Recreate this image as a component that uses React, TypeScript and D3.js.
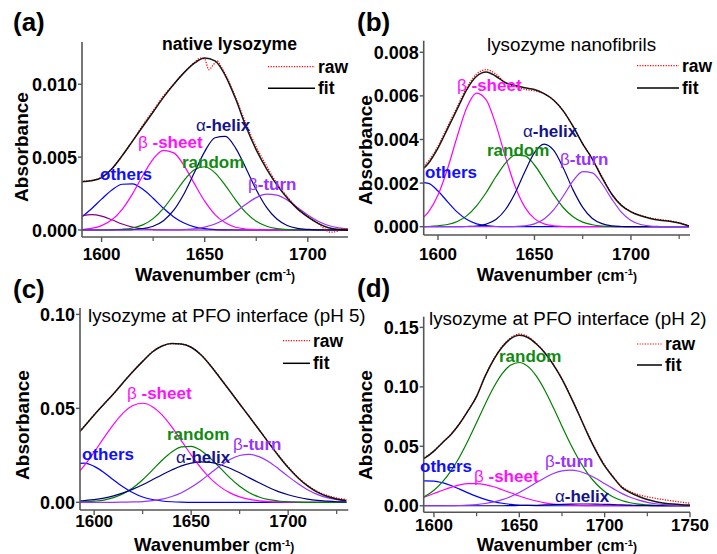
import React from 'react';
import * as d3 from 'd3';

// wavenumber grids (cm-1)
const wnA = [1590, 1595, 1600, 1605, 1610, 1615, 1620, 1625, 1630, 1635, 1640, 1645, 1650, 1655, 1660, 1665, 1670, 1675, 1680, 1685, 1690, 1695, 1700, 1705, 1710, 1715, 1720];
const wnBC = [1590, 1595, 1600, 1605, 1610, 1615, 1620, 1625, 1630, 1635, 1640, 1645, 1650, 1655, 1660, 1665, 1670, 1675, 1680, 1685, 1690, 1695, 1700, 1705, 1710, 1715, 1720, 1725, 1730];
const wnD = [1590, 1595, 1600, 1605, 1610, 1615, 1620, 1625, 1630, 1635, 1640, 1645, 1650, 1655, 1660, 1665, 1670, 1675, 1680, 1685, 1690, 1695, 1700, 1705, 1710, 1715, 1720, 1725, 1730, 1735, 1740, 1745, 1750];

// (a) native lysozyme
const othersA = [0.00086, 0.00144, 0.00212, 0.00275, 0.00314, 0.00316, 0.00279, 0.00218, 0.00149, 0.0009, 0.00048, 0.00022, 0.00009, 0.00003, 0.00001, 0, 0, 0, 0, 0, 0, 0, 0, 0, 0, 0, 0];
const extraA = [0.00095, 0.00105, 0.00095, 0.0007, 0.00041, 0.0002, 0.00008, 0.00003, 0.00001, 0, 0, 0, 0, 0, 0, 0, 0, 0, 0, 0, 0, 0, 0, 0, 0, 0, 0];
const sheetA = [0.00003, 0.00011, 0.0003, 0.0007, 0.00142, 0.00248, 0.00374, 0.00487, 0.00547, 0.00529, 0.00442, 0.00318, 0.00198, 0.00106, 0.00049, 0.00019, 0.00007, 0.00002, 0, 0, 0, 0, 0, 0, 0, 0, 0];
const randomA = [0, 0, 0, 0.00001, 0.00005, 0.00014, 0.00035, 0.00078, 0.00148, 0.00242, 0.00341, 0.00414, 0.00434, 0.00392, 0.00306, 0.00206, 0.00119, 0.0006, 0.00026, 0.0001, 0.00003, 0.00001, 0, 0, 0, 0, 0];
const alphaA = [0, 0, 0, 0, 0.00001, 0.00003, 0.00009, 0.00026, 0.00064, 0.00136, 0.00249, 0.00394, 0.00538, 0.00633, 0.00642, 0.00562, 0.00424, 0.00276, 0.00155, 0.00075, 0.00031, 0.00011, 0.00004, 0.00001, 0, 0, 0];
const turnA = [0, 0, 0, 0, 0, 0, 0, 0, 0, 0.00001, 0.00003, 0.00008, 0.0002, 0.00041, 0.00076, 0.00123, 0.00176, 0.00222, 0.00246, 0.00239, 0.00206, 0.00155, 0.00103, 0.0006, 0.00031, 0.00014, 0.00006];
const fitA = [0.0033, 0.00338, 0.0036, 0.0042, 0.0051, 0.0061, 0.0071, 0.0081, 0.0091, 0.01, 0.0108, 0.01145, 0.0118, 0.0116, 0.0106, 0.009, 0.0071, 0.0055, 0.0042, 0.0031, 0.0022, 0.00145, 0.0009, 0.00045, 0.00015, 0.00003, 0];
const rawWnA = [1590, 1595, 1600, 1605, 1610, 1615, 1620, 1625, 1630, 1635, 1640, 1645, 1648, 1650, 1652, 1654, 1656, 1658, 1660, 1665, 1670, 1675, 1680, 1685, 1690, 1695, 1700, 1705, 1708, 1711, 1714, 1717, 1720];
const rawA = [0.00334, 0.0034, 0.00362, 0.0042, 0.0051, 0.0061, 0.0072, 0.0082, 0.0092, 0.01, 0.0108, 0.0115, 0.0118, 0.01172, 0.011, 0.0113, 0.0116, 0.0112, 0.0107, 0.0091, 0.0073, 0.0057, 0.0044, 0.0032, 0.0023, 0.0015, 0.00092, 0.00045, 0.0001, -0.00015, -0.0001, 0.0001, 0.00008];

// (b) lysozyme nanofibrils
const othersB = [0.00203, 0.00199, 0.00164, 0.00114, 0.00067, 0.00033, 0.00013, 0.00005, 0.00001, 0, 0, 0, 0, 0, 0, 0, 0, 0, 0, 0, 0, 0, 0, 0, 0, 0, 0, 0, 0];
const sheetB = [0.00026, 0.00067, 0.00145, 0.00267, 0.00415, 0.00548, 0.00613, 0.00582, 0.00468, 0.00319, 0.00184, 0.0009, 0.00037, 0.00013, 0.00004, 0.00001, 0, 0, 0, 0, 0, 0, 0, 0, 0, 0, 0, 0, 0];
const randomB = [0, 0.00001, 0.00004, 0.0001, 0.00024, 0.00051, 0.00096, 0.00157, 0.00229, 0.00292, 0.00328, 0.00325, 0.00283, 0.00217, 0.00147, 0.00087, 0.00046, 0.00021, 0.00009, 0.00003, 0.00001, 0, 0, 0, 0, 0, 0, 0, 0];
const alphaB = [0, 0, 0, 0, 0, 0.00001, 0.00003, 0.00012, 0.00033, 0.00079, 0.00155, 0.00252, 0.0034, 0.00379, 0.0035, 0.00268, 0.00169, 0.00089, 0.00038, 0.00014, 0.00004, 0.00001, 0, 0, 0, 0, 0, 0, 0];
const turnB = [0, 0, 0, 0, 0, 0, 0, 0, 0, 0, 0.00001, 0.00004, 0.00013, 0.00035, 0.00078, 0.00142, 0.0021, 0.00253, 0.00247, 0.00197, 0.00128, 0.00067, 0.00029, 0.0001, 0.00003, 0.00001, 0, 0, 0];
const fitB = [0.0025, 0.0029, 0.0036, 0.0045, 0.0054, 0.0063, 0.0069, 0.0071, 0.0069, 0.0066, 0.00648, 0.00637, 0.00629, 0.0061, 0.0058, 0.0053, 0.0046, 0.0038, 0.0031, 0.00225, 0.0015, 0.00098, 0.00068, 0.0005, 0.00038, 0.0003, 0.00025, 0.00017, 0.00003];
const rawB = [0.0026, 0.003, 0.0037, 0.0046, 0.0055, 0.0064, 0.007, 0.0072, 0.007, 0.0066, 0.00643, 0.0063, 0.00623, 0.0061, 0.0058, 0.0053, 0.0046, 0.0038, 0.0031, 0.0023, 0.0015, 0.001, 0.0007, 0.00052, 0.0004, 0.00033, 0.00027, 0.00018, 0.00004];

// (c) lysozyme at PFO interface (pH 5)
const othersC = [0.0206, 0.0208, 0.0191, 0.0159, 0.0119, 0.0082, 0.0051, 0.0028, 0.0015, 0.0007, 0.0003, 0.0001, 0, 0, 0, 0, 0, 0, 0, 0, 0, 0, 0, 0, 0, 0, 0, 0, 0];
const sheetC = [0.0137, 0.0196, 0.0267, 0.0343, 0.0415, 0.0476, 0.0515, 0.0527, 0.0509, 0.0465, 0.0401, 0.0327, 0.0252, 0.0183, 0.0126, 0.0082, 0.005, 0.0029, 0.0016, 0.0008, 0.0004, 0.0002, 0.0001, 0, 0, 0, 0, 0, 0];
const randomC = [0.0001, 0.0002, 0.0006, 0.0012, 0.0025, 0.0046, 0.0077, 0.012, 0.0171, 0.0224, 0.0268, 0.0295, 0.0298, 0.0276, 0.0234, 0.0182, 0.013, 0.0085, 0.0051, 0.0028, 0.0014, 0.0007, 0.0003, 0.0001, 0, 0, 0, 0, 0];
const alphaC = [0.0005, 0.0009, 0.0014, 0.0022, 0.0034, 0.005, 0.007, 0.0093, 0.012, 0.0147, 0.0172, 0.0194, 0.0208, 0.0215, 0.0212, 0.02, 0.0181, 0.0157, 0.013, 0.0104, 0.0079, 0.0057, 0.004, 0.0027, 0.0017, 0.001, 0.0006, 0.0003, 0.0002];
const turnC = [0, 0, 0, 0, 0, 0.0001, 0.0002, 0.0004, 0.0009, 0.0017, 0.0031, 0.0051, 0.008, 0.0115, 0.0155, 0.0194, 0.0228, 0.0249, 0.0255, 0.0243, 0.0216, 0.0179, 0.0138, 0.01, 0.0067, 0.0042, 0.0025, 0.0014, 0.0007];
const fitC = [0.0345, 0.0405, 0.0465, 0.0522, 0.0578, 0.0638, 0.0696, 0.0750, 0.0800, 0.0832, 0.0845, 0.0843, 0.0825, 0.0785, 0.0727, 0.0660, 0.0592, 0.0523, 0.0455, 0.0386, 0.0316, 0.0248, 0.0185, 0.0131, 0.0087, 0.0054, 0.0032, 0.0018, 0.0009];
const rawC = [0.0346, 0.0406, 0.0466, 0.0522, 0.0577, 0.0638, 0.0697, 0.0751, 0.0801, 0.0832, 0.0844, 0.0842, 0.0825, 0.0786, 0.0728, 0.0661, 0.0593, 0.0524, 0.0456, 0.0387, 0.0318, 0.025, 0.0188, 0.0134, 0.0091, 0.0058, 0.0037, 0.0023, 0.0015];

// (d) lysozyme at PFO interface (pH 2)
const othersD = [0.0197, 0.0209, 0.0208, 0.0194, 0.017, 0.014, 0.0108, 0.0079, 0.0054, 0.0035, 0.0021, 0.0012, 0.0006, 0.0003, 0.0001, 0, 0, 0, 0, 0, 0, 0, 0, 0, 0, 0, 0, 0, 0, 0, 0, 0, 0];
const sheetD = [0.0055, 0.0077, 0.0103, 0.013, 0.0155, 0.0175, 0.0186, 0.0187, 0.0178, 0.016, 0.0135, 0.0109, 0.0082, 0.0059, 0.004, 0.0025, 0.0015, 0.0009, 0.0005, 0.0002, 0.0001, 0, 0, 0, 0, 0, 0, 0, 0, 0, 0, 0, 0];
const randomD = [0.0049, 0.0082, 0.0131, 0.0201, 0.0293, 0.041, 0.0548, 0.07, 0.0854, 0.0996, 0.1111, 0.1183, 0.1205, 0.1172, 0.109, 0.097, 0.0824, 0.0669, 0.0519, 0.0385, 0.0273, 0.0185, 0.012, 0.0074, 0.0044, 0.0025, 0.0013, 0.0007, 0.0003, 0.0001, 0, 0, 0];
const alphaD = [0, 0, 0, 0, 0, 0, 0, 0, 0, 0, 0, 0.0001, 0.0002, 0.0003, 0.0004, 0.0007, 0.0009, 0.0012, 0.0014, 0.0015, 0.0015, 0.0014, 0.0012, 0.001, 0.0007, 0.0005, 0.0003, 0.0002, 0.0001, 0, 0, 0, 0];
const turnD = [0, 0, 0, 0, 0.0001, 0.0002, 0.0005, 0.001, 0.0019, 0.0032, 0.0051, 0.0078, 0.0112, 0.0152, 0.0195, 0.0236, 0.0271, 0.0293, 0.03, 0.029, 0.0265, 0.0229, 0.0186, 0.0144, 0.0104, 0.0072, 0.0047, 0.0029, 0.0017, 0.0009, 0.0005, 0.0002, 0.0001];
const fitD = [0.037, 0.0405, 0.046, 0.053, 0.06, 0.069, 0.08, 0.092, 0.109, 0.123, 0.1335, 0.1405, 0.1434, 0.1415, 0.136, 0.1285, 0.1185, 0.1065, 0.092, 0.0765, 0.0605, 0.046, 0.0335, 0.024, 0.0155, 0.011, 0.0078, 0.0052, 0.0034, 0.0022, 0.0014, 0.0009, 0.0006];
const rawD = [0.038, 0.041, 0.0462, 0.0532, 0.0602, 0.0692, 0.0802, 0.0922, 0.1092, 0.1232, 0.134, 0.1412, 0.1445, 0.1422, 0.1365, 0.1288, 0.1188, 0.1068, 0.0925, 0.077, 0.061, 0.0466, 0.0342, 0.0245, 0.0162, 0.012, 0.0092, 0.0075, 0.0062, 0.005, 0.004, 0.003, 0.0022];

// axis ticks
const xMajor = [1600, 1650, 1700];
const xMajorD = [1600, 1650, 1700, 1750];
const xMinor = [1625, 1675, 1725];
const yTicksA = [0, 0.005, 0.01];
const yTicksB = [0, 0.002, 0.004, 0.006, 0.008];
const yTicksC = [0, 0.05, 0.1];
const yTicksD = [0, 0.05, 0.1, 0.15];

const FONT = '"Liberation Sans", Arial, Helvetica, sans-serif';
const C = {
  others: '#0000ff',
  sheet: '#ff00ff',
  random: '#008000',
  alpha: '#000080',
  turn: '#9933ff',
  extra: '#800080',
  raw: '#ff0000',
  fit: '#000000'
};

const comp = (x, y, color) => ({ x, y, color, width: 1.2 });

const panels = [
  {
    id: 'a', tag: '(a)', tagX: 13, tagY: 31,
    left: 82, right: 348, top: 42, bottom: 237,
    xDomain: [1590.5, 1719.5], yDomain: [-0.00048, 0.0129],
    xTicks: xMajor, yTicks: yTicksA, yFmt: '.3f', xLabelY: 260, xTitleY: 280.5, yTitleX: 28, yTitleY: 147,
    title: 'native lysozyme', titleX: 162, titleY: 50, titleBold: true,
    legend: { x1: 268, x2: 315, raw: 66.7, fit: 88.3 },
    curves: [
      comp(wnA, othersA, C.others), comp(wnA, extraA, C.extra), comp(wnA, sheetA, C.sheet),
      comp(wnA, randomA, C.random), comp(wnA, alphaA, C.alpha), comp(wnA, turnA, C.turn)
    ],
    raw: [rawWnA, rawA], fit: [wnA, fitA],
    labels: [
      { k: 'others', x: 100, y: 180 }, { k: 'sheet', x: 138, y: 148 }, { k: 'random', x: 182, y: 167.5 },
      { k: 'alpha', x: 196, y: 130.5 }, { k: 'turn', x: 248, y: 190 }
    ]
  },
  {
    id: 'b', tag: '(b)', tagX: 357, tagY: 31,
    left: 423.7, right: 690, top: 40.7, bottom: 235,
    xDomain: [1592.6, 1730.6], yDomain: [-0.00038, 0.00853],
    xTicks: xMajor, yTicks: yTicksB, yFmt: '.3f', xLabelY: 260, xTitleY: 280.5, yTitleX: 372, yTitleY: 150,
    title: 'lysozyme nanofibrils', titleX: 487, titleY: 51, titleBold: false,
    legend: { x1: 637, x2: 679, raw: 65.7, fit: 88 },
    curves: [
      comp(wnBC, othersB, C.others), comp(wnBC, sheetB, C.sheet), comp(wnBC, randomB, C.random),
      comp(wnBC, alphaB, C.alpha), comp(wnBC, turnB, C.turn)
    ],
    raw: [wnBC, rawB], fit: [wnBC, fitB],
    labels: [
      { k: 'others', x: 425, y: 178 }, { k: 'sheet', x: 457, y: 91 }, { k: 'random', x: 487, y: 155.5 },
      { k: 'alpha', x: 523, y: 137 }, { k: 'turn', x: 560, y: 165 }
    ]
  },
  {
    id: 'c', tag: '(c)', tagX: 13, tagY: 298,
    left: 80, right: 348.3, top: 308, bottom: 510,
    xDomain: [1592.7, 1731], yDomain: [-0.0041, 0.1034],
    xTicks: xMajor, yTicks: yTicksC, yFmt: '.2f', xLabelY: 527, xTitleY: 551, yTitleX: 29, yTitleY: 425,
    title: 'lysozyme at PFO interface (pH 5)', titleX: 88, titleY: 322, titleBold: false,
    legend: { x1: 283, x2: 310, raw: 340.7, fit: 363.3 },
    curves: [
      comp(wnBC, othersC, C.others), comp(wnBC, sheetC, C.sheet), comp(wnBC, randomC, C.random),
      comp(wnBC, alphaC, C.alpha), comp(wnBC, turnC, C.turn)
    ],
    raw: [wnBC, rawC], fit: [wnBC, fitC],
    labels: [
      { k: 'others', x: 82, y: 460 }, { k: 'sheet', x: 127, y: 399 }, { k: 'random', x: 167, y: 440 },
      { k: 'alpha', x: 176, y: 462.5 }, { k: 'turn', x: 233, y: 450 }
    ]
  },
  {
    id: 'd', tag: '(d)', tagX: 357, tagY: 297,
    left: 423.7, right: 690, top: 316.7, bottom: 512.3,
    xDomain: [1594, 1750], yDomain: [-0.0055, 0.159],
    xTicks: xMajorD, yTicks: yTicksD, yFmt: '.2f', xLabelY: 531, xTitleY: 551, yTitleX: 372, yTitleY: 425,
    title: 'lysozyme at PFO interface (pH 2)', titleX: 429, titleY: 325, titleBold: false,
    legend: { x1: 637, x2: 662, raw: 344, fit: 365 },
    curves: [
      comp(wnD, othersD, C.others), comp(wnD, sheetD, C.sheet), comp(wnD, randomD, C.random),
      comp(wnD, alphaD, C.alpha), comp(wnD, turnD, C.turn)
    ],
    raw: [wnD, rawD], fit: [wnD, fitD],
    labels: [
      { k: 'others', x: 420, y: 472 }, { k: 'sheet', x: 474, y: 482 }, { k: 'random', x: 499, y: 362 },
      { k: 'alpha', x: 555, y: 502 }, { k: 'turn', x: 545, y: 467 }
    ]
  }
];

// label text: greek letter drawn thin, rest bold
const LABELS = {
  others: { greek: '', text: 'others', color: '#1010ff' },
  sheet: { greek: 'β', text: ' -sheet', color: '#ff10ff' },
  random: { greek: '', text: 'random', color: '#108a10' },
  alpha: { greek: 'α', text: '-helix', color: '#14148a' },
  turn: { greek: 'β', text: '-turn', color: '#9933ff' }
};

function Panel({ p }) {
  const x = d3.scaleLinear().domain(p.xDomain).range([p.left, p.right]);
  const y = d3.scaleLinear().domain(p.yDomain).range([p.bottom, p.top]);
  const path = (xs, ys) =>
    d3.line().x((d) => x(d[0])).y((d) => y(d[1])).curve(d3.curveMonotoneX)(xs.map((v, i) => [v, ys[i]]));
  const fmt = d3.format(p.yFmt);
  const axisColor = '#555';
  const minors = xMinor.filter((t) => t > p.xDomain[0] && t < p.xDomain[1]);
  const midX = (p.left + p.right) / 2;

  return (
    <g fontFamily={FONT}>
      <defs>
        <clipPath id={`clip-${p.id}`}>
          <rect x={p.left} y={p.top} width={p.right - p.left} height={p.bottom - p.top} />
        </clipPath>
      </defs>

      <g clipPath={`url(#clip-${p.id})`} fill="none">
        {p.curves.map((c, i) => (
          <path key={i} d={path(c.x, c.y)} stroke={c.color} strokeWidth={c.width} />
        ))}
        <path d={path(p.raw[0], p.raw[1])} stroke={C.raw} strokeWidth={1.3} strokeDasharray="1.2 1.4" />
        <path d={path(p.fit[0], p.fit[1])} stroke={C.fit} strokeWidth={1.5} strokeOpacity={0.9} />
      </g>

      {/* axes */}
      <line x1={p.left} x2={p.left} y1={p.top} y2={p.bottom} stroke={axisColor} strokeWidth={1.6} />
      <line x1={p.left} x2={p.right} y1={p.bottom} y2={p.bottom} stroke={axisColor} strokeWidth={1.6} />
      {p.yTicks.map((t) => (
        <g key={t}>
          <line x1={p.left - 4} x2={p.left} y1={y(t)} y2={y(t)} stroke={axisColor} strokeWidth={1.4} />
          <text x={p.left - 5} y={y(t) + 6.5} textAnchor="end" fontSize={18} fontWeight="bold">{fmt(t)}</text>
        </g>
      ))}
      {p.xTicks.map((t) => (
        <g key={t}>
          <line x1={x(t)} x2={x(t)} y1={p.bottom} y2={p.bottom + 5} stroke={axisColor} strokeWidth={1.4} />
          <text x={x(t)} y={p.xLabelY} textAnchor="middle" fontSize={17} fontWeight="bold">{t}</text>
        </g>
      ))}
      {minors.map((t) => (
        <line key={t} x1={x(t)} x2={x(t)} y1={p.bottom} y2={p.bottom + 4} stroke={axisColor} strokeWidth={1.2} />
      ))}

      {/* axis titles */}
      <text x={midX} y={p.xTitleY} textAnchor="middle" fontWeight="bold">
        <tspan fontSize={18.5}>Wavenumber </tspan>
        <tspan fontSize={12}>(</tspan>
        <tspan fontSize={16}>cm</tspan>
        <tspan fontSize={9.5} dy={-5.5}>-1</tspan>
        <tspan fontSize={12} dy={5.5}>)</tspan>
      </text>
      <text transform={`translate(${p.yTitleX},${p.yTitleY}) rotate(-90)`} textAnchor="middle" fontSize={19} fontWeight="bold">
        Absorbance
      </text>

      {/* titles */}
      <text x={p.tagX} y={p.tagY} fontSize={26} fontWeight="bold">{p.tag}</text>
      <text x={p.titleX} y={p.titleY} fontSize={p.titleBold ? 17.6 : 18.8} fontWeight={p.titleBold ? 'bold' : 'normal'}>
        {p.title}
      </text>

      {/* legend */}
      <line x1={p.legend.x1} x2={p.legend.x2} y1={p.legend.raw} y2={p.legend.raw} stroke={C.raw} strokeWidth={1.2} strokeDasharray="1.2 1.4" />
      <text x={p.legend.x2 + 3} y={p.legend.raw + 6} fontSize={17.5} fontWeight="bold">raw</text>
      <line x1={p.legend.x1} x2={p.legend.x2} y1={p.legend.fit} y2={p.legend.fit} stroke={C.fit} strokeWidth={1.5} />
      <text x={p.legend.x2 + 3} y={p.legend.fit + 6} fontSize={17.5} fontWeight="bold">fit</text>

      {/* component labels */}
      {p.labels.map((l) => {
        const s = LABELS[l.k];
        return (
          <text key={l.k} x={l.x} y={l.y} fill={s.color} fontSize={17}>
            {s.greek ? <tspan fontWeight="normal">{s.greek}</tspan> : null}
            <tspan fontWeight="bold">{s.text}</tspan>
          </text>
        );
      })}
    </g>
  );
}

export default function App() {
  return (
    <svg width={717} height={554} style={{ position: 'absolute', left: 0, top: 0, background: '#fff' }}>
      <rect width={717} height={554} fill="#fff" />
      {panels.map((p) => (
        <Panel key={p.id} p={p} />
      ))}
    </svg>
  );
}
